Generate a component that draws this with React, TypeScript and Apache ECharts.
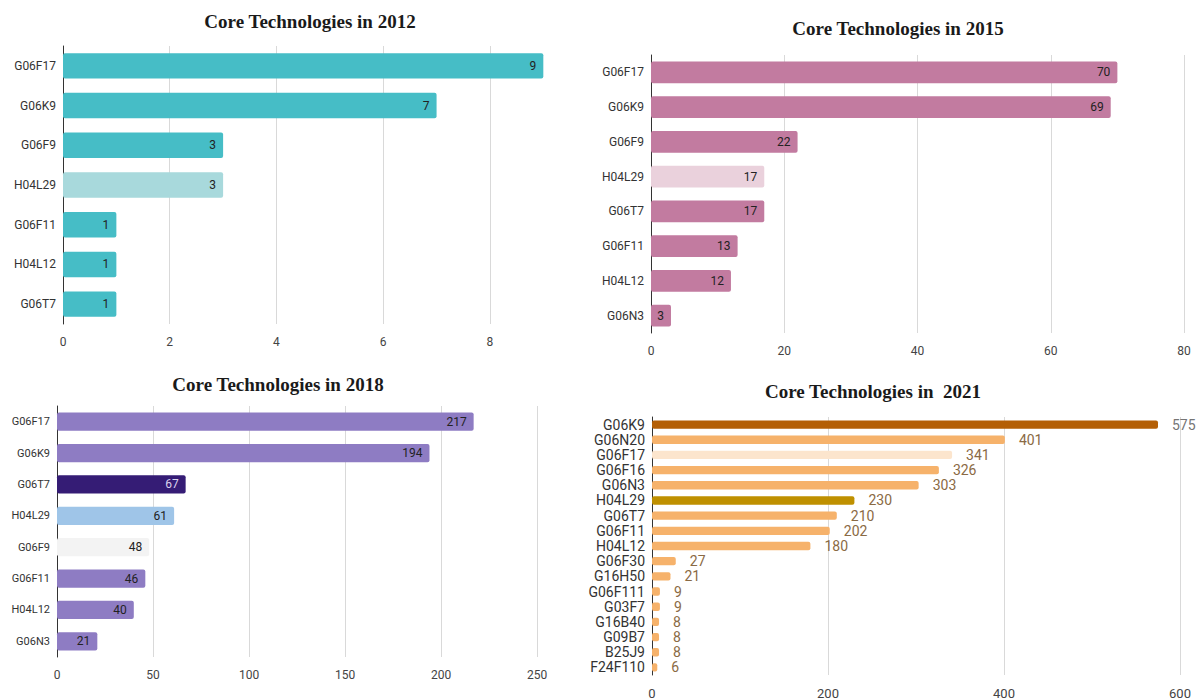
import React, { useEffect, useRef } from "react";
import * as echarts from "echarts";

const cats2012 = ["G06F17", "G06K9", "G06F9", "H04L29", "G06F11", "H04L12", "G06T7"];
const vals2012 = [9, 7, 3, 3, 1, 1, 1];
const colors2012 = ["#46bdc6", "#46bdc6", "#46bdc6", "#a8d9dc", "#46bdc6", "#46bdc6", "#46bdc6"];

const cats2015 = ["G06F17", "G06K9", "G06F9", "H04L29", "G06T7", "G06F11", "H04L12", "G06N3"];
const vals2015 = [70, 69, 22, 17, 17, 13, 12, 3];
const colors2015 = ["#c27ba0", "#c27ba0", "#c27ba0", "#ead1dc", "#c27ba0", "#c27ba0", "#c27ba0", "#c27ba0"];

const cats2018 = ["G06F17", "G06K9", "G06T7", "H04L29", "G06F9", "G06F11", "H04L12", "G06N3"];
const vals2018 = [217, 194, 67, 61, 48, 46, 40, 21];
const colors2018 = ["#8e7cc3", "#8e7cc3", "#351c75", "#9fc5e8", "#f3f3f3", "#8e7cc3", "#8e7cc3", "#8e7cc3"];

const cats2021 = ["G06K9", "G06N20", "G06F17", "G06F16", "G06N3", "H04L29", "G06T7", "G06F11", "H04L12", "G06F30", "G16H50", "G06F111", "G03F7", "G16B40", "G09B7", "B25J9", "F24F110"];
const vals2021 = [575, 401, 341, 326, 303, 230, 210, 202, 180, 27, 21, 9, 9, 8, 8, 8, 6];
const colors2021 = ["#b45f06", "#f6b26b", "#fce5cd", "#f6b26b", "#f6b26b", "#bf9000", "#f6b26b", "#f6b26b", "#f6b26b", "#f6b26b", "#f6b26b", "#f6b26b", "#f6b26b", "#f6b26b", "#f6b26b", "#f6b26b", "#f6b26b"];

const titles = ["Core Technologies in 2012", "Core Technologies in 2015", "Core Technologies in 2018", "Core Technologies in  2021"];

export default function App() {
  const ref = useRef<HTMLDivElement>(null);
  useEffect(() => {
    if (!ref.current) return;
    const chart = echarts.init(ref.current, undefined, { renderer: "svg" });
    const sans = "Roboto";
    const titleStyle = { fontFamily: "Liberation Serif", fontSize: 19, fontWeight: "bold" as const, color: "#1a1a1a" };
    const grids = [
      { left: 63, top: 46, width: 507, height: 278 },
      { left: 651, top: 55, width: 533, height: 278 },
      { left: 57, top: 406, width: 480, height: 251 },
      { left: 652, top: 417, width: 528, height: 262 },
    ];
    const cats = [cats2012, cats2015, cats2018, cats2021];
    const vals = [vals2012, vals2015, vals2018, vals2021];
    const cols = [colors2012, colors2015, colors2018, colors2021];
    const maxes = [9.5, 80, 250, 600];
    const intervals = [2, 20, 50, 200];
    const catFont = [12, 12, 11, 14];
    const gaps = ["36%", "37%", "42%", "45%"];

    const xAxis = grids.map((_, i) => ({
      type: "value",
      gridIndex: i,
      min: 0,
      max: maxes[i],
      interval: intervals[i],
      axisLine: { show: false },
      axisTick: { show: false },
      axisLabel: {
        color: "#444",
        fontFamily: sans,
        fontSize: i === 3 ? 13 : 12,
        margin: 12,
        showMaxLabel: i !== 0,
      },
      splitLine: { show: true, showMaxLine: i !== 0, lineStyle: { color: "#d9d9d9", width: 1 } },
    }));
    const yAxis = grids.map((_, i) => ({
      type: "category",
      gridIndex: i,
      data: cats[i],
      inverse: true,
      axisLine: { show: true, lineStyle: { color: "#333", width: 1 } },
      axisTick: { show: false },
      axisLabel: { color: "#333", fontFamily: sans, fontSize: catFont[i], margin: 7, interval: 0 },
      splitLine: { show: false },
    }));
    const series = grids.map((_, i) => ({
      type: "bar",
      xAxisIndex: i,
      yAxisIndex: i,
      barCategoryGap: gaps[i],
      data: vals[i].map((v, j) => ({
        value: v,
        itemStyle: { color: cols[i][j], borderRadius: 2 },
        label:
          i === 3
            ? { color: j === 0 ? "#757575" : "#8a6a44" }
            : i === 2 && j === 2
            ? { color: "#d9d2ee" }
            : {},
      })),
      label:
        i === 3
          ? { show: true, position: "right", distance: 14, fontFamily: sans, fontSize: 14 }
          : { show: true, position: "insideRight", distance: 7, fontFamily: sans, fontSize: 12, color: "#222" },
    }));

    chart.setOption({
      animation: false,
      backgroundColor: "#ffffff",
      title: [
        { text: titles[0], left: 305, top: 7, textAlign: "center", textStyle: titleStyle },
        { text: titles[1], left: 893, top: 14, textAlign: "center", textStyle: titleStyle },
        { text: titles[2], left: 273, top: 370, textAlign: "center", textStyle: titleStyle },
        { text: titles[3], left: 868, top: 377, textAlign: "center", textStyle: titleStyle },
      ],
      grid: grids,
      xAxis,
      yAxis,
      series,
    });
    return () => chart.dispose();
  }, []);
  return (
    <div
      ref={ref}
      style={{ position: "fixed", left: 0, top: 0, width: 1203, height: 700, background: "#fff" }}
    />
  );
}
